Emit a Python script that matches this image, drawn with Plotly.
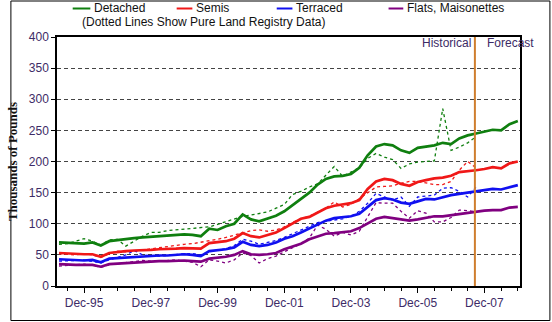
import pandas as pd
import plotly.graph_objects as go

# Quarterly observations, Mar-95 .. Dec-08
quarters = pd.date_range("1995-03-01", periods=56, freq="3MS")

# Model / forecast series (thousands of pounds)
detached = [70, 69, 69, 68, 70, 65, 72, 74, 75, 77, 78, 79, 80, 81, 82, 83, 82, 80,
            92, 90, 96, 100, 115, 107, 104, 108, 113, 120, 130, 140, 150, 163, 172, 176,
            177, 180, 190, 210, 224, 228, 226, 218, 214, 222, 224, 226, 230, 228, 237, 242,
            245, 248, 251, 250, 260, 265]
semis = [53, 52, 52, 51, 51, 47, 53, 55, 56, 57, 57, 58, 59, 59, 60, 61, 61, 60,
         69, 70, 72, 76, 85, 80, 78, 82, 86, 93, 100, 108, 111, 118, 125, 129,
         131, 133, 138, 156, 168, 172, 170, 164, 161, 167, 170, 173, 174, 177, 183, 184,
         186, 188, 191, 189, 197, 200]
terraced = [43, 42, 42, 41, 42, 38, 44, 45, 46, 46, 47, 48, 49, 49, 50, 51, 50, 48,
            56, 57, 59, 62, 71, 66, 64, 66, 70, 76, 80, 86, 92, 98, 105, 109,
            110, 112, 116, 127, 138, 141, 139, 134, 132, 136, 140, 139, 143, 146, 148, 150,
            152, 154, 156, 155, 159, 162]
flats = [35, 34, 34, 34, 34, 31, 35, 36, 37, 38, 38, 39, 40, 40, 41, 41, 40, 39,
         44, 45, 47, 50, 56, 51, 50, 51, 53, 59, 63, 68, 75, 80, 84, 85,
         86, 88, 93, 101, 108, 111, 109, 106, 105, 107, 110, 112, 112, 114, 115, 117,
         119, 121, 122, 122, 126, 127]

# Pure Land Registry data (ends Sep-07)
detached_lr = [67, 68, 72, 76, 72, 66, 74, 75, 64, 72, 80, 86, 86, 89, 90, 91, 93, 94,
               95, 99, 103, 108, 112, 114, 116, 119, 125, 131, 147, 152, 159, 164, 178, 192,
               176, 183, 190, 205, 213, 207, 203, 189, 196, 199, 200, 201, 285, 218, 223, 230,
               240]
semis_lr = [52, 51, 50, 52, 50, 46, 52, 56, 55, 56, 58, 60, 62, 64, 66, 67, 68, 70,
            73, 75, 78, 82, 86, 89, 90, 88, 90, 95, 102, 108, 112, 118, 125, 135,
            127, 131, 140, 150, 159, 160, 161, 165, 168, 168, 165, 163, 163, 168, 186, 200,
            190]
terraced_lr = [40, 40, 41, 42, 40, 37, 42, 46, 50, 57, 50, 49, 48, 49, 51, 52, 52, 50,
               55, 58, 60, 65, 75, 72, 67, 70, 73, 78, 84, 90, 96, 102, 104, 106,
               108, 112, 120, 133, 149, 143, 138, 143, 128, 143, 144, 146, 157, 158, 152, 143,
               159]
flats_lr = [32, 33, 34, 35, 33, 30, 34, 36, 38, 40, 41, 40, 40, 41, 42, 40, 38, 31,
            42, 40, 37, 42, 53, 49, 37, 44, 48, 55, 62, 68, 77, 98, 91, 80,
            86, 82, 88, 112, 134, 133, 133, 120, 109, 121, 117, 103, 103, 110, 122, 121,
            119]

names = ["Detached", "Semis", "Terraced", "Flats, Maisonettes"]
colors = ["#0F7F0F", "#F01818", "#1010F0", "#800080"]
solid = [detached, semis, terraced, flats]
dotted = [detached_lr, semis_lr, terraced_lr, flats_lr]

y_ticks = [0, 50, 100, 150, 200, 250, 300, 350, 400]
x_range = ["1995-02-07", "2008-12-25"]
split_date = "2007-08-19"
tick_color = "#3d2b66"
text_font = "Liberation Sans, Arial"


def px_x(px):
    # horizontal pixel -> paper fraction (plot area spans 48..520)
    return (px - 48) / 472


def px_y(py):
    # vertical pixel -> paper fraction (plot area spans 37..286)
    return (286 - py) / 249


fig = go.Figure()
for vals, col in zip(dotted, colors):
    fig.add_trace(go.Scatter(x=quarters[:len(vals)], y=vals, mode="lines",
                             line=dict(color=col, width=1.3, dash="dot"),
                             showlegend=False, hoverinfo="skip"))
for vals, col, name in zip(solid, colors, names):
    fig.add_trace(go.Scatter(x=quarters, y=vals, mode="lines", name=name,
                             line=dict(color=col, width=2.7), showlegend=False))

# Split between historical and forecast
fig.add_shape(type="line", xref="x", yref="paper", x0=split_date, x1=split_date,
              y0=0, y1=1, line=dict(color="#CF7E2E", width=2))

# Outer frame around the whole figure
fig.add_shape(type="rect", xref="paper", yref="paper",
              x0=px_x(1), x1=px_x(550.5), y0=px_y(320.5), y1=px_y(1),
              line=dict(color="black", width=1))

# Legend drawn as short line samples with labels
legend_x = [(64, 82), (170, 186), (272, 288), (386, 401)]
row1, row2 = 7.5, 22
for (a, b), col, name in zip(legend_x, colors, names):
    fig.add_shape(type="line", xref="paper", yref="paper",
                  x0=px_x(a), x1=px_x(b), y0=px_y(row1 + 1), y1=px_y(row1 + 1),
                  line=dict(color=col, width=2))
    fig.add_annotation(xref="paper", yref="paper", x=px_x(b + 2), y=px_y(row1),
                       text=name, showarrow=False, xanchor="left", yanchor="middle",
                       font=dict(family=text_font, size=12, color="#111"))
fig.add_annotation(xref="paper", yref="paper", x=px_x(71), y=px_y(row2),
                   text="(Dotted Lines Show Pure Land Registry Data)", showarrow=False,
                   xanchor="left", yanchor="middle",
                   font=dict(family=text_font, size=12, color="#111"))

fig.add_annotation(x=split_date, xref="x", yref="paper", y=px_y(43), text="Historical",
                   showarrow=False, xanchor="right", yanchor="middle", xshift=-2,
                   font=dict(family=text_font, size=12, color=tick_color))
fig.add_annotation(x=split_date, xref="x", yref="paper", y=px_y(43), text="Forecast",
                   showarrow=False, xanchor="left", yanchor="middle", xshift=10,
                   font=dict(family=text_font, size=12, color=tick_color))

fig.update_layout(
    width=552, height=322,
    margin=dict(l=48, r=32, t=37, b=36),
    paper_bgcolor="white", plot_bgcolor="white",
    showlegend=False,
    font=dict(family=text_font, size=12, color=tick_color),
)
fig.update_xaxes(
    type="date", range=x_range, tick0="1995-12-01", dtick="M24", tickformat="%b-%y",
    ticks="outside", ticklen=5, tickcolor="black", showgrid=False,
    showline=True, linecolor="black", linewidth=1.5, mirror=True,
    minor=dict(dtick="M6", tick0="1995-12-01", ticks="outside", ticklen=3,
               tickcolor="black", showgrid=False),
    tickfont=dict(size=12, color=tick_color),
)
fig.update_yaxes(
    range=[0, 400], tickvals=y_ticks, ticks="outside", ticklen=4, tickcolor="black",
    showgrid=True, gridcolor="#444", gridwidth=1, griddash="4px,3px",
    showline=True, linecolor="black", linewidth=1.5, mirror=True, zeroline=False,
    tickfont=dict(size=12, color=tick_color),
    title=dict(text="<b>Thousands of Pounds</b>", standoff=8,
               font=dict(family="Liberation Serif, Times New Roman", size=13, color="#111")),
)

fig.write_html("out.html")
